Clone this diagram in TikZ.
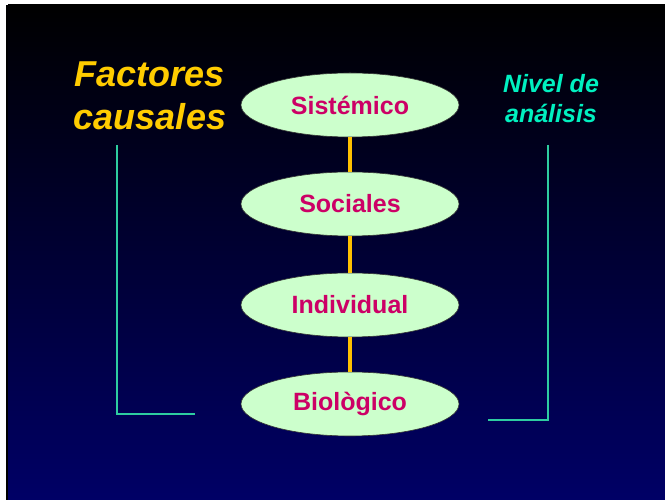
\documentclass[tikz,border=0pt]{standalone}
\usepackage{fontspec}
\setmainfont{Liberation Sans}
\usetikzlibrary{shapes}

\definecolor{fondo}{HTML}{000066}
\definecolor{verde}{HTML}{CCFFCC}
\definecolor{rosa}{HTML}{CC0066}
\definecolor{oro}{HTML}{FFC000}
\definecolor{amarillo}{HTML}{FFCC00}
\definecolor{turquesa}{HTML}{00F0C0}
\definecolor{linea}{HTML}{2ECCA0}

\tikzset{
  nivel/.style={ellipse,draw=black!80,line width=0.6pt,fill=verde,
    minimum width=218pt,minimum height=64pt,inner sep=0pt,
    text=rosa,font=\fontsize{25}{30}\selectfont\bfseries},
  enlace/.style={oro,line width=3.5pt},
  corchete/.style={linea,line width=2pt}
}

\begin{document}
\begin{tikzpicture}[x=1pt,y=1pt]
    \useasboundingbox (0,0) rectangle (665,500);
    \fill[white] (0,0) rectangle (665,500);
    \fill[black] (6,0) rectangle (665,495);
    \shade[top color=black,bottom color=fondo] (8,0) rectangle (665,495);
    % niveles
    \node[nivel] (sist) at (350,395) {Sistémico};
    \node[nivel] (soc) at (350,296) {Sociales};
    \node[nivel] (indiv) at (350,195) {Individual};
    \node[nivel] (bio) at (350,96) {Biològico};
    \draw[enlace] (sist.south) -- (soc.north);
    \draw[enlace] (soc.south) -- (indiv.north);
    \draw[enlace] (indiv.south) -- (bio.north);
    % titulos
    \node[text=amarillo,align=center,font=\fontsize{36}{43}\selectfont\bfseries\itshape] (factores) at (150,404.5) {Factores\\causales};
    \node[text=turquesa,align=center,font=\fontsize{25}{30}\selectfont\bfseries\itshape] (analisis) at (551,401) {Nivel de\\análisis};
    % corchetes
    \draw[corchete] (117,355) -- (117,86) -- (195,86);
    \draw[corchete] (548,355) -- (548,80) -- (488,80);
\end{tikzpicture}
\end{document}
